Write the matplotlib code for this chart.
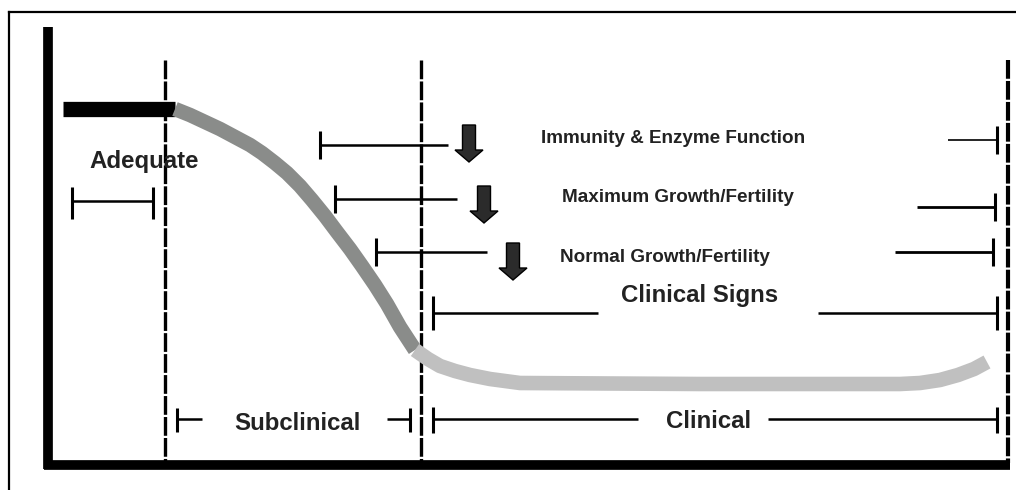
import matplotlib
matplotlib.use("Agg")
import matplotlib.pyplot as plt

plt.rcParams['font.family'] = ['Liberation Sans', 'DejaVu Sans']
plt.rcParams['lines.scale_dashes'] = False

# diagram drawn in pixel space of the original picture (y grows downward)
adequate_bar_x = [63, 175]
adequate_bar_y = [109, 109]

decline_x = [175, 190, 205, 220, 235, 250, 262, 275, 287, 300, 312, 325, 337,
             350, 362, 375, 387, 400, 415]
decline_y = [109, 115, 122, 129, 137, 145, 153, 163, 173, 186, 200, 216, 232,
             249, 266, 285, 304, 327, 350]

deficient_x = [415, 428, 440, 455, 470, 490, 520, 700, 900, 920, 940, 958, 974, 987]
deficient_y = [350, 359, 366, 371, 375, 379, 383, 384, 384, 383, 380, 375, 369, 362]

divider_x = [165, 421, 1008]

# bracket rows
rows = ["Immunity & Enzyme Function", "Maximum Growth/Fertility", "Normal Growth/Fertility"]
row_left = [320, 335, 376]
row_left_end = [448, 457, 487]
row_right_start = [948, 917, 895]
row_right = [997, 995, 993]
row_y_left = [145, 199, 252]
row_y_right = [140, 207, 252]
row_text_x = [673, 678, 665]
row_text_y = [138, 197, 257]
arrow_x = [469, 484, 513]
arrow_top = [125, 186, 243]

fig = plt.figure(figsize=(10.16, 4.9), dpi=100)
ax = fig.add_axes([0, 0, 1, 1])
ax.set_xlim(0, 1016)
ax.set_ylim(490, 0)
ax.axis('off')

# outer frame
ax.plot([9, 1016], [12, 12], color='black', lw=1.6)
ax.plot([9, 9], [12, 490], color='black', lw=1.6)

# axes
ax.plot([48, 48], [27, 469], color='black', lw=7, solid_capstyle='butt')
ax.plot([44, 1010], [465, 465], color='black', lw=7, solid_capstyle='butt')

# dashed dividers
for i, x in enumerate(divider_x):
    lw = 2.4 if i < 2 else 3.0
    ax.plot([x, x], [60, 463], color='black', lw=lw,
            dashes=(13.5, 1.6), solid_capstyle='butt', dash_capstyle='butt')

# status curve
ax.plot(adequate_bar_x, adequate_bar_y, color='black', lw=11, solid_capstyle='butt')
ax.plot(decline_x, decline_y, color='#8a8c8a', lw=10.5, solid_capstyle='butt',
        solid_joinstyle='round')
ax.plot(deficient_x, deficient_y, color='#c0c0c0', lw=10.5, solid_capstyle='butt',
        solid_joinstyle='round')

tick_lw = 2.2
line_lw = 1.8
big = 17.3
small = 13.6
txt = '#222222'


def tick(x, y, h=14):
    ax.plot([x, x], [y - h, y + h], color='black', lw=tick_lw, solid_capstyle='butt')


def hline(x0, x1, y, lw=line_lw):
    ax.plot([x0, x1], [y, y], color='black', lw=lw, solid_capstyle='butt')


# adequate bracket
hline(72, 153, 201)
tick(72, 203, 16)
tick(153, 203, 16)
ax.text(144, 161, "Adequate", fontsize=big, fontweight='bold', color=txt,
        ha='center', va='center')

# function rows with arrows
for i in range(3):
    hline(row_left[i], row_left_end[i], row_y_left[i])
    tick(row_left[i], row_y_left[i])
    hline(row_right_start[i], row_right[i], row_y_right[i], lw=2.0 if i else 1.2)
    tick(row_right[i], row_y_right[i])
    ax.text(row_text_x[i], row_text_y[i], rows[i], fontsize=small, fontweight='bold',
            color=txt, ha='center', va='center')
    ax.arrow(arrow_x[i], arrow_top[i], 0, 37, width=13, head_width=28, head_length=12,
             length_includes_head=True, facecolor='#2b2b2b', edgecolor='black', lw=1)

# clinical signs
hline(433, 598, 313)
hline(818, 997, 313)
tick(433, 313, 17)
tick(997, 313, 17)
ax.text(700, 295, "Clinical Signs", fontsize=big, fontweight='bold', color=txt,
        ha='center', va='center')

# subclinical / clinical
hline(177, 202, 419)
tick(177, 420, 12)
hline(387, 410, 419)
tick(410, 420, 12)
ax.text(297, 423, "Subclinical", fontsize=big, fontweight='bold', color=txt,
        ha='center', va='center')

hline(433, 638, 419)
tick(433, 420, 13)
hline(768, 997, 419)
tick(997, 420, 13)
ax.text(709, 421, "Clinical", fontsize=big, fontweight='bold', color=txt,
        ha='center', va='center')

fig.savefig("out.png", dpi=100, facecolor='white')
